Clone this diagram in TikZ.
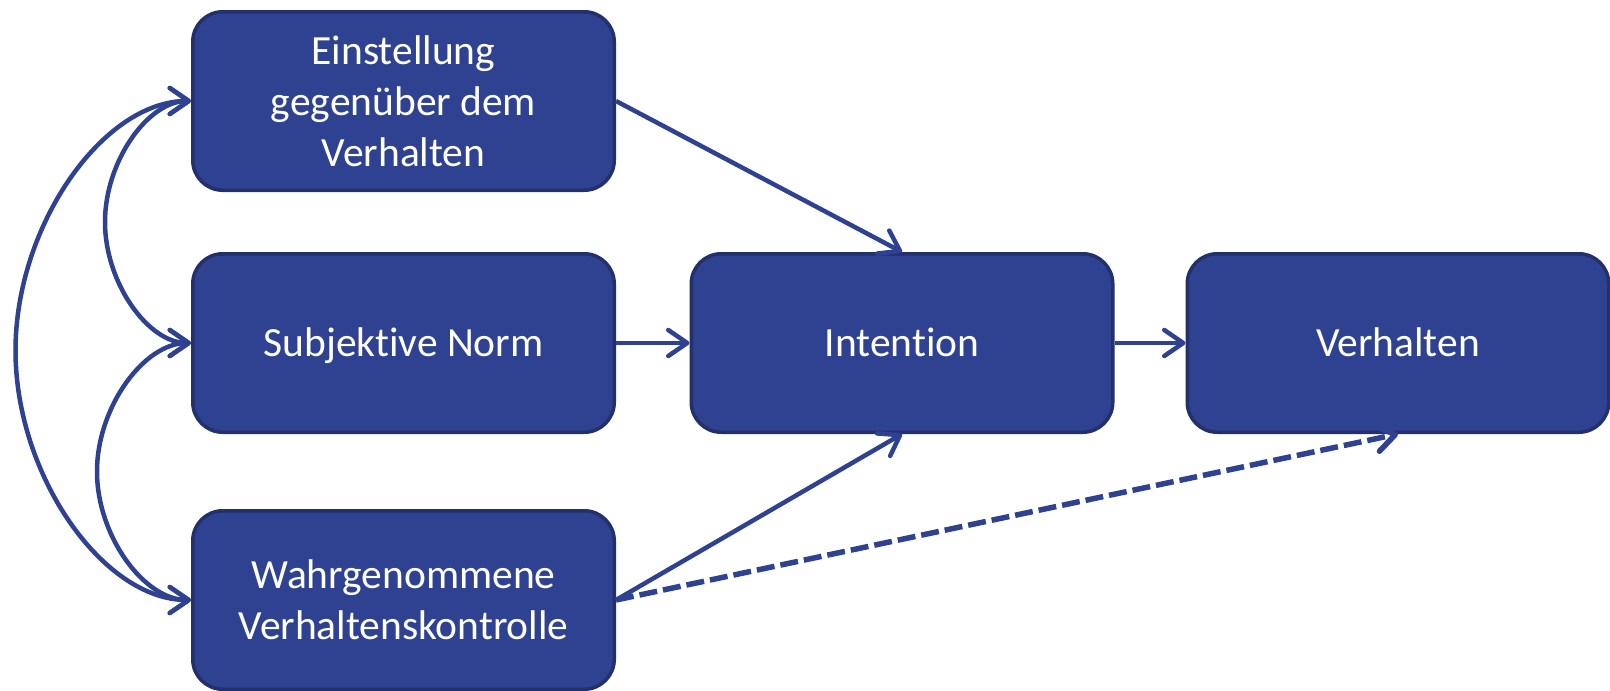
\documentclass[tikz,border=0pt]{standalone}
\usepackage{fontspec}
\setmainfont[Ligatures=NoCommon]{Carlito}
\usetikzlibrary{arrows.meta,calc}
\definecolor{boxfill}{HTML}{2F4191}
\definecolor{boxline}{HTML}{22306C}
\definecolor{arrowcol}{HTML}{2F4191}
\begin{document}
\begin{tikzpicture}[x=1pt,y=1pt,
  boxbase/.style={draw=boxline, line width=3.5pt, fill=boxfill, rounded corners=30pt,
    minimum width=421.5pt, minimum height=178.5pt, text=white,
    font=\fontsize{41.5}{51}\selectfont, inner sep=0pt},
  box/.style={boxbase, align=center},
  boxone/.style={boxbase, text height=27pt, text depth=0pt},
  tipbarb/.tip={Straight Barb[length=19pt,width=26pt,round]},
  conn/.style={draw=arrowcol, line width=4.5pt, -tipbarb},
  dbl/.style={draw=arrowcol, line width=4.5pt, tipbarb-tipbarb}]
\useasboundingbox (0,0) rectangle (1610,-691);
\node[box] (b1) at (403.5,-101) {Einstellung\\gegenüber dem\\Verhalten};
\node[boxone] (b2) at (403.5,-343) {Subjektive Norm};
\node[box] (b3) at (403.5,-600) {Wahrgenommene\\Verhaltenskontrolle};
\node[boxone] (int) at (902,-343) {Intention};
\node[boxone] (beh) at (1398,-343) {Verhalten};

\draw[conn] (b1.east) -- (int.north);
\draw[conn] (b2.east) -- (int.west);
\draw[conn] (int.east) -- (beh.west);
\draw[conn] (b3.east) -- (int.south);
\draw[conn, line width=5.5pt, dash pattern=on 18pt off 6pt] (b3.east) -- (beh.south);

\coordinate (m1) at ($(b1.west)!0.5!(b2.west)+(-86,0)$);
\coordinate (m2) at ($(b2.west)!0.5!(b3.west)+(-94,0)$);
\coordinate (m3) at ($(b1.west)!0.5!(b3.west)+(-175.5,0)$);
\draw[dbl] (b1.west) .. controls +(-43,0) and +(0,60.75) .. (m1)
  .. controls +(0,-60.75) and +(-43,0) .. (b2.west);
\draw[dbl] (b2.west) .. controls +(-47,0) and +(0,64.25) .. (m2)
  .. controls +(0,-64.25) and +(-47,0) .. (b3.west);
\draw[dbl] (b1.west) .. controls +(-87.75,0) and +(0,125) .. (m3)
  .. controls +(0,-125) and +(-87.75,0) .. (b3.west);
\end{tikzpicture}
\end{document}
